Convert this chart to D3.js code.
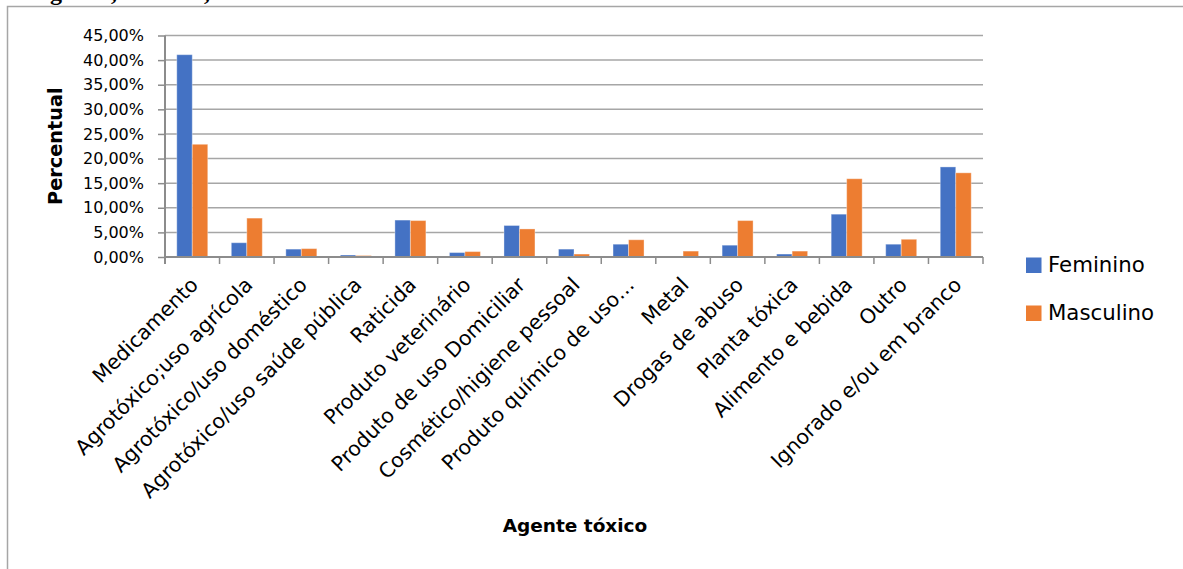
<!DOCTYPE html>
<html>
<head>
<meta charset="utf-8">
<script src="https://cdn.jsdelivr.net/npm/d3@7"></script>
<style>
  body { margin: 0; background: #fff; }
  svg { display: block; }
  .tick text { font-family: "DejaVu Sans", sans-serif; }
</style>
</head>
<body>
<div class="chart"></div>
<script>
var svgWidth = 1183;
var svgHeight = 569;

// categories and series
var categories = ["Medicamento", "Agrotóxico;uso agrícola", "Agrotóxico/uso doméstico",
  "Agrotóxico/uso saúde pública", "Raticida", "Produto veterinário", "Produto de uso Domiciliar",
  "Cosmético/higiene pessoal", "Produto químico de uso…", "Metal", "Drogas de abuso",
  "Planta tóxica", "Alimento e bebida", "Outro", "Ignorado e/ou em branco"];
var seriesNames = ["Feminino", "Masculino"];
var feminino = [41.1, 2.9, 1.6, 0.4, 7.5, 0.9, 6.4, 1.6, 2.6, 0, 2.4, 0.6, 8.7, 2.6, 18.3];
var masculino = [22.9, 7.9, 1.7, 0.3, 7.4, 1.1, 5.7, 0.6, 3.5, 1.2, 7.4, 1.2, 15.9, 3.6, 17.1];
var yTicks = [0, 5, 10, 15, 20, 25, 30, 35, 40, 45];
var colors = ["#4472C4", "#ED7D31"];

var plot = {left: 165, right: 983, top: 35.5, bottom: 257};

var svg = d3.select(".chart")
  .append("svg")
  .attr("width", svgWidth)
  .attr("height", svgHeight);

// clipped caption line from the page above the chart
svg.append("g")
  .attr("font-family", "Liberation Serif, serif")
  .attr("font-weight", "bold")
  .attr("font-size", 24)
  .selectAll("text")
  .data([["g", 50], [",", 111], [",", 204]])
  .enter().append("text")
  .attr("x", function(d) { return d[1]; })
  .attr("y", 0)
  .text(function(d) { return d[0]; });

// chart frame
svg.append("rect")
  .attr("x", 7.5).attr("y", 6.5)
  .attr("width", 1300).attr("height", 700)
  .attr("fill", "none")
  .attr("stroke", "#a6a6a6")
  .attr("stroke-width", 1.5);

var x = d3.scaleBand().domain(categories).range([plot.left, plot.right]).padding(0);
var xInner = d3.scaleBand().domain(seriesNames).range([0, x.bandwidth()]).paddingInner(0).paddingOuter(0.76);
var y = d3.scaleLinear().domain([0, 45]).range([plot.bottom, plot.top]);

// gridlines
svg.append("g")
  .selectAll("line")
  .data(yTicks.slice(1))
  .enter().append("line")
  .attr("x1", plot.left).attr("x2", plot.right)
  .attr("y1", function(d) { return y(d); })
  .attr("y2", function(d) { return y(d); })
  .attr("stroke", "#a6a6a6")
  .attr("stroke-width", 1.5);

// bars
var series = [feminino, masculino];
series.forEach(function(vals, si) {
  svg.append("g")
    .selectAll("rect")
    .data(vals)
    .enter().append("rect")
    .attr("x", function(d, i) { return x(categories[i]) + xInner(seriesNames[si]); })
    .attr("y", function(d) { return y(d); })
    .attr("width", xInner.bandwidth())
    .attr("height", function(d) { return y(0) - y(d); })
    .attr("fill", colors[si])
    .attr("stroke", "#ffffff")
    .attr("stroke-opacity", 0.35)
    .attr("stroke-width", 1);
});

// y axis
var leftAxis = d3.axisLeft(y)
  .tickValues(yTicks)
  .tickSize(7)
  .tickPadding(14)
  .tickFormat(function(d) { return d3.format(".2f")(d).replace(".", ",") + "%"; });
var yAxisG = svg.append("g")
  .attr("transform", "translate(" + plot.left + ",0)")
  .call(leftAxis);
yAxisG.select(".domain").remove();
yAxisG.selectAll(".tick line").attr("stroke", "#8c8c8c").attr("stroke-width", 1.5);
yAxisG.selectAll(".tick text").attr("font-size", 16).attr("fill", "#000");
svg.append("line")
  .attr("x1", plot.left).attr("x2", plot.left)
  .attr("y1", plot.top).attr("y2", plot.bottom + 7)
  .attr("stroke", "#8c8c8c").attr("stroke-width", 2);

// x axis: ticks at category boundaries
var bounds = categories.map(function(c) { return x(c); }).concat([plot.right]);
svg.append("line")
  .attr("x1", plot.left).attr("x2", plot.right)
  .attr("y1", plot.bottom).attr("y2", plot.bottom)
  .attr("stroke", "#8c8c8c").attr("stroke-width", 2);
svg.append("g")
  .selectAll("line")
  .data(bounds)
  .enter().append("line")
  .attr("x1", function(d) { return d; }).attr("x2", function(d) { return d; })
  .attr("y1", plot.bottom).attr("y2", plot.bottom + 7)
  .attr("stroke", "#8c8c8c").attr("stroke-width", 1.5);

// category labels rotated
svg.append("g")
  .attr("font-family", "DejaVu Sans, sans-serif")
  .attr("font-size", 20.5)
  .selectAll("text")
  .data(categories)
  .enter().append("text")
  .attr("transform", function(d) {
    return "translate(" + (x(d) + x.bandwidth() / 2 + 2) + "," + (plot.bottom + 24) + ") rotate(-45)";
  })
  .attr("text-anchor", "end")
  .attr("dy", "0.35em")
  .attr("fill", "#000")
  .text(function(d) { return d; });

// axis titles
svg.append("text")
  .attr("transform", "translate(62," + ((plot.top + plot.bottom) / 2) + ") rotate(-90)")
  .attr("text-anchor", "middle")
  .attr("font-family", "DejaVu Sans, sans-serif")
  .attr("font-weight", "bold")
  .attr("font-size", 19.3)
  .text("Percentual");

svg.append("text")
  .attr("x", 575).attr("y", 532)
  .attr("text-anchor", "middle")
  .attr("font-family", "DejaVu Sans, sans-serif")
  .attr("font-weight", "bold")
  .attr("font-size", 18.5)
  .text("Agente tóxico");

// legend
var legend = svg.append("g")
  .selectAll("g")
  .data(seriesNames)
  .enter().append("g")
  .attr("transform", function(d, i) { return "translate(1026," + (257.5 + i * 48) + ")"; });
legend.append("rect")
  .attr("width", 15.5).attr("height", 15.5)
  .attr("fill", function(d, i) { return colors[i]; });
legend.append("text")
  .attr("x", 22).attr("y", 14.5)
  .attr("font-family", "DejaVu Sans, sans-serif")
  .attr("font-size", 21.3)
  .text(function(d) { return d; });
</script>
</body>
</html>
